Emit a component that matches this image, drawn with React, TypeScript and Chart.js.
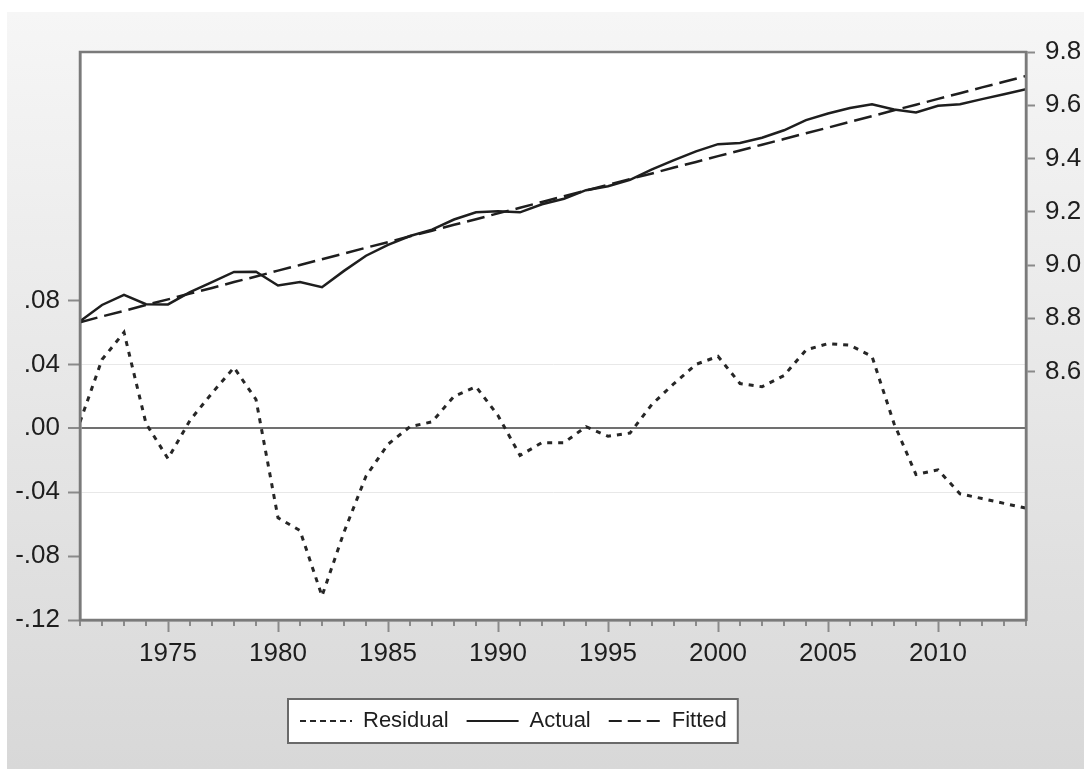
import React, { useEffect, useRef } from "react";
import { Chart, registerables } from "chart.js";

Chart.register(...registerables);

// ---- data ----
const years = [
  1971, 1972, 1973, 1974, 1975, 1976, 1977, 1978, 1979, 1980,
  1981, 1982, 1983, 1984, 1985, 1986, 1987, 1988, 1989, 1990,
  1991, 1992, 1993, 1994, 1995, 1996, 1997, 1998, 1999, 2000,
  2001, 2002, 2003, 2004, 2005, 2006, 2007, 2008, 2009, 2010,
  2011, 2012, 2013, 2014,
];

const residual = [
  0.004, 0.043, 0.06, 0.003, -0.019, 0.005, 0.022, 0.038, 0.018, -0.056,
  -0.064, -0.105, -0.065, -0.03, -0.01, 0.001, 0.004, 0.02, 0.026, 0.008,
  -0.017, -0.009, -0.009, 0.001, -0.005, -0.003, 0.015, 0.028, 0.04, 0.045,
  0.028, 0.026, 0.033, 0.049, 0.053, 0.052, 0.045, 0.003, -0.029, -0.026,
  -0.041, -0.044, -0.047, -0.05,
];

const actual = [
  8.789, 8.85, 8.888, 8.853, 8.852, 8.898, 8.936, 8.974, 8.975, 8.923,
  8.936, 8.917, 8.978, 9.035, 9.076, 9.109, 9.133, 9.171, 9.198, 9.202,
  9.198, 9.228, 9.249, 9.281, 9.296, 9.32, 9.359, 9.394, 9.427, 9.454,
  9.458, 9.478, 9.506, 9.544, 9.569, 9.59, 9.604, 9.584, 9.573, 9.598,
  9.604, 9.623, 9.641, 9.66,
];

const fitted = [
  8.785, 8.807, 8.828, 8.85, 8.871, 8.893, 8.914, 8.936, 8.957, 8.979,
  9.0, 9.022, 9.043, 9.065, 9.086, 9.108, 9.129, 9.151, 9.172, 9.194,
  9.215, 9.237, 9.258, 9.28, 9.301, 9.323, 9.344, 9.366, 9.387, 9.409,
  9.43, 9.452, 9.473, 9.495, 9.516, 9.538, 9.559, 9.581, 9.602, 9.624,
  9.645, 9.667, 9.688, 9.71,
];

const leftTicks = [-0.12, -0.08, -0.04, 0, 0.04, 0.08];
const rightTicks = [8.6, 8.8, 9.0, 9.2, 9.4, 9.6, 9.8];
const labeledYears = [1975, 1980, 1985, 1990, 1995, 2000, 2005, 2010];
const seriesNames = ["Residual", "Actual", "Fitted"];

// ---- layout / style constants ----
const W = 1091;
const H = 769;
const FONT = "'Liberation Sans', Arial, sans-serif";
const AXIS_GRAY = "#7a7a7a";
const TICK_GRAY = "#8a8a8a";
const LINE = "#1e1e1e";
const TEXT = "#1e1e1e";

const fmtLeft = (v: number) => {
  const s = Math.abs(v) < 1e-9 ? "0.00" : v.toFixed(2);
  return s.replace("0.", ".");
};

const decorPlugin = {
  id: "decor",
  afterLayout(chart: any) {
    const lg = chart.legend;
    if (!lg || !lg.lineWidths) return;
    const pad = lg.options.labels.padding;
    const itemH = lg.options.labels.font.size;
    const targetTop = 721 - pad - itemH / 2;
    const dy = targetTop - lg.top;
    lg.top += dy;
    lg.bottom += dy;
    const startX = (lg.left + pad + lg.right - lg.lineWidths[0]) / 2;
    const dx = 300 - startX;
    lg.left += dx;
    lg.right += dx;
  },
  beforeDraw(chart: any) {
    const { ctx, chartArea } = chart;
    ctx.save();
    ctx.fillStyle = "#ffffff";
    ctx.fillRect(0, 0, W, H);
    const g = ctx.createLinearGradient(0, 12, 0, H);
    g.addColorStop(0, "#f6f6f6");
    g.addColorStop(1, "#d8d8d8");
    ctx.fillStyle = g;
    ctx.fillRect(7, 12, 1077, H - 12);
    ctx.fillStyle = "#ffffff";
    ctx.fillRect(
      chartArea.left,
      chartArea.top,
      chartArea.right - chartArea.left,
      chartArea.bottom - chartArea.top
    );
    // legend frame
    const lg = chart.legend;
    if (lg && lg.legendHitBoxes && lg.legendHitBoxes.length) {
      const hb = lg.legendHitBoxes;
      const first = hb[0];
      const last = hb[hb.length - 1];
      const cy = first.top + first.height / 2;
      const x0 = first.left - 12;
      const x1 = last.left + last.width + 11;
      ctx.fillStyle = "#ffffff";
      ctx.fillRect(x0, cy - 22, x1 - x0, 44);
      ctx.strokeStyle = "#6a6a6a";
      ctx.lineWidth = 2;
      ctx.strokeRect(x0, cy - 22, x1 - x0, 44);
    }
    ctx.restore();
  },
  afterDraw(chart: any) {
    const { ctx, chartArea } = chart;
    const xs = chart.scales.x;
    ctx.save();
    // minor year ticks
    ctx.strokeStyle = TICK_GRAY;
    ctx.lineWidth = 2;
    ctx.beginPath();
    for (const yr of years) {
      if (yr % 5 === 0) continue;
      const px = xs.getPixelForValue(yr);
      ctx.moveTo(px, chartArea.bottom);
      ctx.lineTo(px, chartArea.bottom + 6);
    }
    ctx.stroke();
    // plot frame
    ctx.strokeStyle = AXIS_GRAY;
    ctx.lineWidth = 2.5;
    ctx.strokeRect(
      chartArea.left,
      chartArea.top,
      chartArea.right - chartArea.left,
      chartArea.bottom - chartArea.top
    );
    ctx.restore();
  },
};

export default function App() {
  const canvasRef = useRef<HTMLCanvasElement | null>(null);

  useEffect(() => {
    const canvas = canvasRef.current;
    if (!canvas) return;
    const chart = new Chart(canvas, {
      type: "line",
      data: {
        datasets: [
          {
            label: seriesNames[0],
            data: years.map((y, i) => ({ x: y, y: residual[i] })),
            yAxisID: "y",
            borderColor: "#262626",
            borderWidth: 3,
            borderDash: [5, 6],
            pointRadius: 0,
            tension: 0,
            fill: false,
          },
          {
            label: seriesNames[1],
            data: years.map((y, i) => ({ x: y, y: actual[i] })),
            yAxisID: "y2",
            borderColor: LINE,
            borderWidth: 2.5,
            pointRadius: 0,
            tension: 0,
            fill: false,
          },
          {
            label: seriesNames[2],
            data: years.map((y, i) => ({ x: y, y: fitted[i] })),
            yAxisID: "y2",
            borderColor: LINE,
            borderWidth: 2.5,
            borderDash: [18, 7],
            pointRadius: 0,
            tension: 0,
            fill: false,
          },
        ],
      },
      options: {
        responsive: false,
        animation: false,
        devicePixelRatio: 1,
        layout: { padding: { top: 52, left: 0, right: 0, bottom: 44 } },
        plugins: {
          tooltip: { enabled: false },
          legend: {
            display: true,
            position: "bottom",
            labels: {
              usePointStyle: true,
              pointStyle: "line",
              pointStyleWidth: 52,
              padding: 18,
              color: TEXT,
              font: { family: FONT, size: 22 },
              generateLabels: (ch: any) => {
                const base = Chart.defaults.plugins.legend.labels.generateLabels(ch);
                return base.map((item: any) => {
                  const ds = ch.data.datasets[item.datasetIndex];
                  const dash =
                    item.datasetIndex === 0 ? [6, 4] : item.datasetIndex === 2 ? [13, 6] : [];
                  return {
                    ...item,
                    pointStyle: "line",
                    strokeStyle: ds.borderColor,
                    lineWidth: 2,
                    lineDash: dash,
                  };
                });
              },
            },
          },
        },
        scales: {
          x: {
            type: "linear",
            position: "bottom",
            min: 1971,
            max: 2014,
            afterBuildTicks: (s: any) => {
              s.ticks = years.map((v) => ({ value: v }));
            },
            afterFit: (s: any) => {
              s.height = 55;
            },
            ticks: {
              autoSkip: false,
              maxRotation: 0,
              minRotation: 0,
              padding: 6,
              color: TEXT,
              font: { family: FONT, size: 26 },
              callback: (v: any) =>
                labeledYears.includes(Number(v)) ? String(v) : "",
            },
            grid: {
              drawOnChartArea: false,
              tickLength: 12,
              tickWidth: 2,
              tickColor: (c: any) =>
                c.tick && c.tick.value % 5 === 0 ? TICK_GRAY : "rgba(0,0,0,0)",
            },
            border: { display: true, color: AXIS_GRAY, width: 2.5 },
          },
          y: {
            position: "left",
            min: -0.12,
            max: 0.2355,
            afterBuildTicks: (s: any) => {
              s.ticks = leftTicks.map((v) => ({ value: v }));
            },
            afterFit: (s: any) => {
              s.width = 80;
            },
            ticks: {
              padding: 8,
              color: TEXT,
              font: { family: FONT, size: 26 },
              callback: (v: any) => fmtLeft(Number(v)),
            },
            grid: {
              drawOnChartArea: true,
              tickLength: 12,
              tickWidth: 2,
              tickColor: TICK_GRAY,
              color: (c: any) => {
                const v = c.tick ? c.tick.value : NaN;
                if (Math.abs(v) < 1e-9) return "#707070";
                if (Math.abs(Math.abs(v) - 0.04) < 1e-9) return "#e8e8e8";
                return "rgba(0,0,0,0)";
              },
              lineWidth: (c: any) => {
                const v = c.tick ? c.tick.value : NaN;
                return Math.abs(v) < 1e-9 ? 2 : 1;
              },
            },
            border: { display: true, color: AXIS_GRAY, width: 2.5 },
          },
          y2: {
            position: "right",
            min: 7.667,
            max: 9.8,
            afterBuildTicks: (s: any) => {
              s.ticks = rightTicks.map((v) => ({ value: v }));
            },
            afterFit: (s: any) => {
              s.width = 65;
            },
            ticks: {
              padding: 10,
              color: TEXT,
              font: { family: FONT, size: 26 },
              callback: (v: any) => Number(v).toFixed(1),
            },
            grid: {
              drawOnChartArea: false,
              tickLength: 9,
              tickWidth: 2,
              tickColor: TICK_GRAY,
            },
            border: { display: true, color: AXIS_GRAY, width: 2.5 },
          },
        },
      },
      plugins: [decorPlugin],
    } as any);
    return () => chart.destroy();
  }, []);

  return (
    <div
      style={{
        position: "fixed",
        left: 0,
        top: 0,
        width: W,
        height: H,
        background: "#ffffff",
      }}
    >
      <canvas
        ref={canvasRef}
        width={W}
        height={H}
        style={{ display: "block", width: W, height: H }}
      />
    </div>
  );
}
